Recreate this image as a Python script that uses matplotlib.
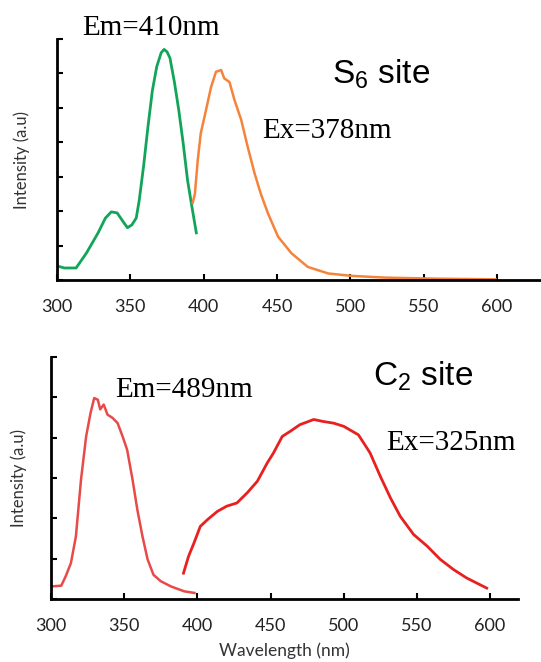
import numpy as np
import matplotlib
matplotlib.use("Agg")
import matplotlib.pyplot as plt

# S6 site: excitation (green) and emission (orange)
s6_ex_wl = [300, 305, 313, 320, 328, 333, 337, 341, 345, 348, 351, 354, 356, 359,
            362, 365, 368, 371, 373, 375, 377, 380, 383, 386, 389, 392, 395]
s6_ex_int = [0.41, 0.35, 0.35, 0.78, 1.37, 1.8, 1.98, 1.95, 1.7, 1.52, 1.6, 1.8, 2.3, 3.3,
             4.45, 5.5, 6.2, 6.6, 6.7, 6.63, 6.45, 5.76, 4.94, 3.98, 2.9, 2.12, 1.37]
s6_em_wl = [392.5, 394, 396, 398, 401.6, 405, 408.4, 411.9, 414, 417.6, 421, 425.6, 430,
            434.7, 439, 443.8, 450.7, 459.8, 471, 485, 501, 524, 558, 599]
s6_em_int = [2.24, 2.5, 3.5, 4.26, 4.94, 5.6, 6.05, 6.1, 5.86, 5.75, 5.23, 4.65, 3.87,
             3.1, 2.5, 1.94, 1.26, 0.78, 0.38, 0.19, 0.12, 0.07, 0.04, 0.02]

# C2 site: excitation (light red) and emission (red)
c2_ex_wl = [300, 307, 310, 313.6, 317, 320.5, 324, 327, 329.5, 332, 333.6, 336, 338.6,
            342, 345.5, 348.9, 352, 355.7, 359, 362.5, 366, 370, 375, 382, 391, 398]
c2_ex_int = [0.31, 0.33, 0.56, 0.89, 1.55, 2.96, 4.03, 4.61, 4.98, 4.94, 4.7, 4.82, 4.57,
             4.49, 4.36, 4.03, 3.7, 2.96, 2.21, 1.55, 0.98, 0.6, 0.44, 0.31, 0.19, 0.15]
c2_em_wl = [390.5, 394, 397.7, 402, 407, 413.6, 420, 427, 434, 441, 447.7, 452, 458,
            463.6, 470, 479.5, 486, 493, 500, 510, 513.6, 518, 525, 532, 538.6, 547.7,
            557, 566, 575, 584, 597.7]
c2_em_int = [0.64, 1.06, 1.39, 1.8, 1.97, 2.17, 2.3, 2.38, 2.63, 2.92, 3.37, 3.62, 4.03,
             4.16, 4.32, 4.45, 4.4, 4.36, 4.28, 4.07, 3.87, 3.62, 3.04, 2.5, 2.05, 1.6,
             1.31, 0.98, 0.73, 0.52, 0.27]

xticks = [300, 350, 400, 450, 500, 550, 600]

plt.rcParams['font.family'] = ['Lato', 'DejaVu Sans']
plt.rcParams['mathtext.fontset'] = 'custom'
plt.rcParams['mathtext.rm'] = 'Liberation Sans'

fig = plt.figure(figsize=(5.41, 6.62), dpi=100)
ax1 = fig.add_axes([0.1054, 0.577, 0.8946, 0.364])
ax2 = fig.add_axes([0.0943, 0.0952, 0.863, 0.3656])


def style(ax, ymax, xmax, lpad):
    ax.set_xlim(300, xmax)
    ax.set_ylim(0, ymax)
    ax.set_xticks(xticks)
    ax.set_yticks(np.arange(0, ymax + 1))
    ax.set_yticklabels([])
    for s in ['top', 'right']:
        ax.spines[s].set_visible(False)
    for s in ['left', 'bottom']:
        ax.spines[s].set_linewidth(2)
        ax.spines[s].set_color('black')
    ax.tick_params(axis='both', direction='in', length=4, width=1.5, color='black')
    ax.tick_params(axis='x', labelsize=13, labelcolor='#222222', pad=14)
    ax.set_ylabel('Intensity (a.u)', fontsize=12, color='#333333', labelpad=lpad)


style(ax1, 7, 630, 16)
ax1.plot(s6_ex_wl, s6_ex_int, color='#12a55a', lw=2)
ax1.plot(s6_em_wl, s6_em_int, color='#f5833a', lw=1.8)

style(ax2, 6, 619, 14)
ax2.plot(c2_ex_wl, c2_ex_int, color='#e84a4a', lw=1.8)
ax2.plot(c2_em_wl, c2_em_int, color='#e8201f', lw=2)
ax2.set_xlabel('Wavelength (nm)', fontsize=12.5, color='#333333', labelpad=6)

serif = ['Liberation Serif', 'DejaVu Serif']
sans = ['Liberation Sans', 'DejaVu Sans']
fig.text(82 / 541, 1 - 35 / 662, 'Em=410nm', family=serif, fontsize=21, va='baseline')
fig.text(262 / 541, 1 - 138 / 662, 'Ex=378nm', family=serif, fontsize=21, va='baseline')
fig.text(332 / 541, 1 - 83 / 662, r'S$_6$ site', family=sans, fontsize=24, va='baseline')
fig.text(373 / 541, 1 - 385 / 662, r'C$_2$ site', family=sans, fontsize=24, va='baseline')
fig.text(115 / 541, 1 - 397 / 662, 'Em=489nm', family=serif, fontsize=21, va='baseline')
fig.text(386 / 541, 1 - 450 / 662, 'Ex=325nm', family=serif, fontsize=21, va='baseline')

fig.savefig('out.png', dpi=100)
